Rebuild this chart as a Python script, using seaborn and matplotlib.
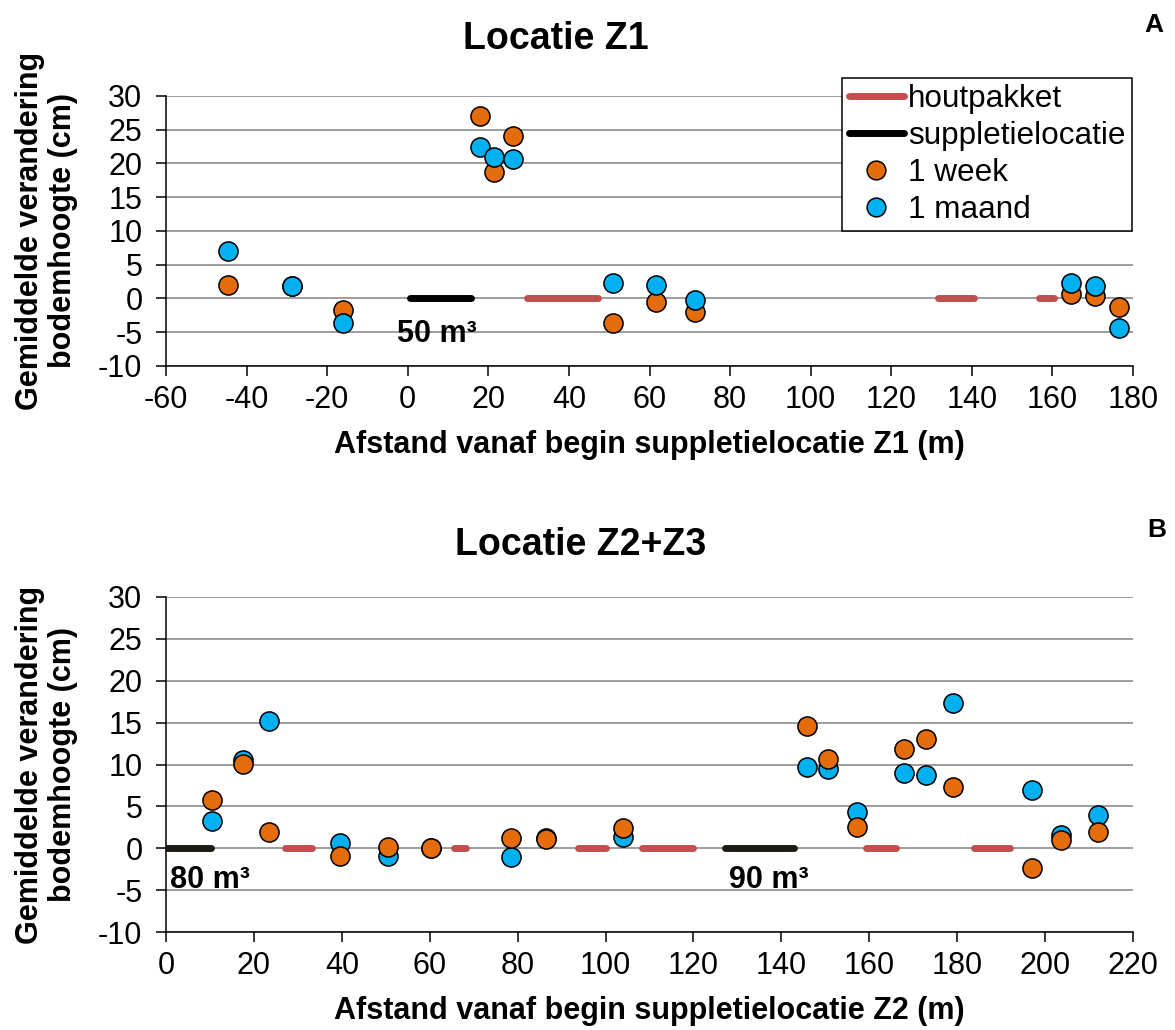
import matplotlib
matplotlib.use("Agg")
import matplotlib.pyplot as plt
from matplotlib.lines import Line2D
import seaborn as sns

# ---- data: Locatie Z1 ----
z1_x = [-44.7, -28.7, -16.0, 18.0, 21.3, 26.2, 50.9, 61.5, 71.4, 164.6, 170.5, 176.6]
z1_week = [2.0, 1.8, -1.7, 27.0, 18.8, 24.0, -3.7, -0.5, -2.0, 0.6, 0.3, -1.3]
z1_maand = [7.0, 1.8, -3.7, 22.5, 21.0, 20.7, 2.35, 2.0, -0.2, 2.35, 1.8, -4.4]
z1_hout = [(29.5, 47.1), (131.7, 140.5), (156.7, 160.5)]
z1_supp = [(0.5, 15.8)]
z1_supp_label = ["50 m³"]

# ---- data: Locatie Z2+Z3 ----
z2_x = [10.5, 17.6, 23.4, 39.5, 50.5, 60.3, 78.4, 86.4, 103.9, 145.9, 150.6,
        157.2, 167.8, 173.0, 179.1, 196.9, 203.5, 212.0]
z2_week = [5.8, 10.1, 1.9, -0.9, 0.1, 0.0, 1.2, 1.1, 2.4, 14.6, 10.7,
           2.5, 11.8, 13.0, 7.3, -2.3, 1.0, 2.0]
z2_maand = [3.2, 10.5, 15.2, 0.6, -0.9, 0.0, -1.0, 1.2, 1.3, 9.7, 9.5,
            4.3, 9.0, 8.7, 17.3, 7.0, 1.6, 4.0]
z2_hout = [(27.0, 33.2), (65.6, 68.2), (93.7, 100.0), (108.2, 119.8),
           (159.3, 166.1), (183.8, 192.1)]
z2_supp = [(0.0, 10.3), (127.1, 142.9)]
z2_supp_label = ["80 m³", "90 m³"]

ORANGE = "#E46C0A"
BLUE = "#00B0F0"
RED = "#C0504D"
BLACK = "#000000"
GRID = "#8c8c8c"
FS = 22

sns.set_style("white")
plt.rcParams["font.family"] = ["Liberation Sans", "DejaVu Sans"]
plt.rcParams["text.color"] = "black"
plt.rcParams["axes.labelcolor"] = "black"
plt.rcParams["xtick.color"] = "black"
plt.rcParams["ytick.color"] = "black"
plt.rcParams["axes.unicode_minus"] = False

fig = plt.figure(figsize=(11.75, 10.3), dpi=100)
ax1 = fig.add_axes([0.1413, 0.6447, 0.8230, 0.2621])
ax2 = fig.add_axes([0.1413, 0.0951, 0.8230, 0.3253])


def draw_segments(ax, segs, color):
    for x0, x1 in segs:
        ax.plot([x0, x1], [0, 0], color=color, lw=5, solid_capstyle="round", zorder=3)


def style_axis(ax, xlim, xlabel, xlab_off):
    ax.set_xlim(*xlim)
    ax.set_ylim(-10, 30)
    ax.set_xticks(range(xlim[0], xlim[1] + 1, 20))
    ax.set_yticks(range(-10, 31, 5))
    ax.yaxis.grid(True, color=GRID, lw=1.2)
    ax.xaxis.grid(False)
    ax.set_axisbelow(True)
    sns.despine(ax=ax)
    for s in ["left", "bottom"]:
        ax.spines[s].set_color("black")
        ax.spines[s].set_linewidth(1.1)
    ax.tick_params(axis="both", direction="out", length=7, width=1.1,
                   color="black", labelsize=FS, labelcolor="black")
    ax.tick_params(axis="x", pad=7, bottom=True)
    ax.tick_params(axis="y", pad=10, left=True)
    ax.set_xlabel(xlabel, fontsize=FS, fontweight="bold", color="black")
    ax.xaxis.set_label_coords(0.5, xlab_off)
    ax.set_ylabel("Gemiddelde verandering\nbodemhoogte (cm)", fontsize=FS,
                  fontweight="bold", linespacing=1.15, color="black")
    ax.yaxis.set_label_coords(-0.091, 0.5)


# ---- top panel ----
draw_segments(ax1, z1_hout, RED)
draw_segments(ax1, z1_supp, BLACK)
sns.scatterplot(x=z1_x, y=z1_week, ax=ax1, color=ORANGE, s=190,
                edgecolor="black", linewidth=1.1, zorder=4, legend=False)
sns.scatterplot(x=z1_x, y=z1_maand, ax=ax1, color=BLUE, s=190,
                edgecolor="black", linewidth=1.1, zorder=5, legend=False)
ax1.text(7.2, -5.3, z1_supp_label[0], fontsize=FS, fontweight="bold",
         ha="center", va="center", zorder=6, color="black")
style_axis(ax1, (-60, 180), "Afstand vanaf begin suppletielocatie Z1 (m)", -0.237)

# ---- bottom panel ----
draw_segments(ax2, z2_hout, RED)
draw_segments(ax2, z2_supp, "#1d1b12")
sns.scatterplot(x=z2_x, y=z2_maand, ax=ax2, color=BLUE, s=190,
                edgecolor="black", linewidth=1.1, zorder=4, legend=False)
sns.scatterplot(x=z2_x, y=z2_week, ax=ax2, color=ORANGE, s=190,
                edgecolor="black", linewidth=1.1, zorder=5, legend=False)
for (x0, x1), lab in zip(z2_supp, z2_supp_label):
    ax2.text(x0 + 1.0, -3.8, lab, fontsize=FS, fontweight="bold",
             ha="left", va="center", zorder=6, color="black")
style_axis(ax2, (0, 220), "Afstand vanaf begin suppletielocatie Z2 (m)", -0.191)

# ---- legend ----
handles = [
    Line2D([], [], color=RED, lw=5, solid_capstyle="round"),
    Line2D([], [], color=BLACK, lw=5, solid_capstyle="round"),
    Line2D([], [], ls="none", marker="o", markersize=13.5, markerfacecolor=ORANGE,
           markeredgecolor="black", markeredgewidth=1.1),
    Line2D([], [], ls="none", marker="o", markersize=13.5, markerfacecolor=BLUE,
           markeredgecolor="black", markeredgewidth=1.1),
]
leg = ax1.legend(handles, ["houtpakket", "suppletielocatie", "1 week", "1 maand"],
                 loc="upper right", bbox_to_anchor=(1132 / 1175, 1 - 78 / 1030),
                 bbox_transform=fig.transFigure, borderaxespad=0, fontsize=22.7,
                 frameon=True, fancybox=False, framealpha=1, edgecolor="black",
                 handlelength=1.76, handletextpad=0.13, labelspacing=0.22,
                 borderpad=0.2)
leg.get_frame().set_linewidth(1.1)
leg.set_zorder(10)
for t in leg.get_texts():
    t.set_color("black")

# ---- titles and panel letters ----
fig.text(556 / 1175, 1 - 39 / 1030, "Locatie Z1", fontsize=27, fontweight="bold",
         ha="center", va="center")
fig.text(581 / 1175, 1 - 545 / 1030, "Locatie Z2+Z3", fontsize=27, fontweight="bold",
         ha="center", va="center")
fig.text(1154 / 1175, 1 - 25 / 1030, "A", fontsize=19, fontweight="bold",
         ha="center", va="center")
fig.text(1157 / 1175, 1 - 530 / 1030, "B", fontsize=19, fontweight="bold",
         ha="center", va="center")

fig.savefig("out.png", dpi=100)
